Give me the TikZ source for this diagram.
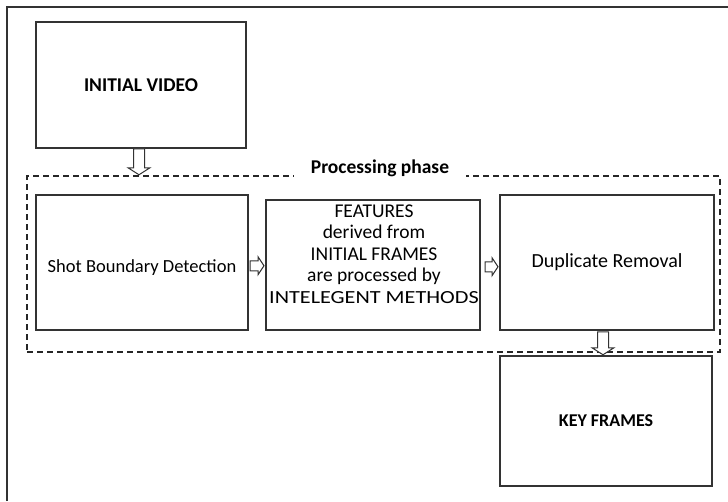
\documentclass[tikz,border=0pt]{standalone}
\usepackage{fontspec}
\setmainfont{Carlito}
\usetikzlibrary{calc}

\tikzset{
  stagebox/.style={draw=black!80, line width=1.5pt, inner sep=0pt, align=center,
    font=\fontsize{18.5}{21.5}\selectfont},
  boldlbl/.style={font=\fontsize{19.5}{22}\selectfont\bfseries},
  hollow/.style={draw=black!80, line width=1pt, fill=white},
  % hollow block arrows, #1 is the length
  darr/.pic={\draw[hollow] (-5.5,0) -- (-5.5,-#1+7) -- (-11,-#1+7) -- (0,-#1)
      -- (11,-#1+7) -- (5.5,-#1+7) -- (5.5,0) -- cycle;},
  rarr/.pic={\draw[hollow] (0,-5) -- (#1-6,-5) -- (#1-6,-9) -- (#1,0)
      -- (#1-6,9) -- (#1-6,5) -- (0,5) -- cycle;}
}

\begin{document}
\begin{tikzpicture}[x=1pt,y=1pt]
\useasboundingbox (0,0) rectangle (728,-501);
\draw [black!80, line width=1.5pt] (7,-501) -- (7,-7) -- (728,-7);

% the processing phase frame
\node [draw=black!85, line width=1.2pt, dash pattern=on 6pt off 4pt,
  minimum width=693pt, minimum height=176pt, inner sep=0pt] (phase) at (373.5,-264) {};
\node [fill=white, minimum width=172pt, inner sep=3pt, boldlbl] (phaselbl) at (380,-168) {Processing phase};

\node [stagebox, minimum width=210pt, minimum height=126pt, boldlbl] (video) at (141,-85) {INITIAL VIDEO};
\node [stagebox, minimum width=212pt, minimum height=135pt] (shot) at (142,-262.5) {};
\node at ($(shot.center)+(0,-5)$) [font=\fontsize{18.5}{21.5}\selectfont] (shotlbl) {Shot Boundary Detection};
\node [stagebox, minimum width=214pt, minimum height=130pt] (feat) at (373,-265) {};
\node at ($(feat.center)+(1,11)$) [align=center, font=\fontsize{19.5}{21.5}\selectfont] (featlbl)
  {FEATURES\\derived from\\INITIAL FRAMES\\are processed by\\\scalebox{1.2}[1]{\fontsize{18.5}{21.5}\selectfont INTELEGENT METHODS}};
\node [stagebox, minimum width=214pt, minimum height=135pt, font=\fontsize{20}{22}\selectfont]
  (dup) at (607,-262.5) {Duplicate Removal};
\node [stagebox, minimum width=212pt, minimum height=130pt, font=\fontsize{18}{21}\selectfont\bfseries]
  (key) at (606,-421) {KEY FRAMES};

\pic at ($(video.south)+(-2,0)$) {darr=26};
\pic at ($(shot.east)!0.5!(feat.west)+(-7,-2)$) {rarr=14};
\pic at ($(feat.east)!0.5!(dup.west)+(-5,-3)$) {rarr=13};
\pic at ($(dup.south)+(-4,-1)$) {darr=23};
\end{tikzpicture}
\end{document}
